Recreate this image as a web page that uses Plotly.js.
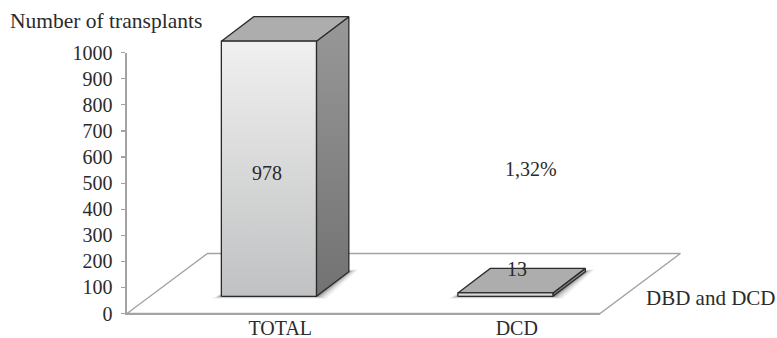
<!DOCTYPE html>
<html>
<head>
<meta charset="utf-8">
<script src="https://cdn.plot.ly/plotly-3.0.1.min.js"></script>
<style>html,body{margin:0;padding:0;background:#fff}</style>
</head>
<body>
<div id="chart" style="width:777px;height:338px"></div>
<script>
// Transplant counts per donor group
const categories = ['TOTAL', 'DCD'];
const values = [978, 13];
const yTicks = [0, 100, 200, 300, 400, 500, 600, 700, 800, 900, 1000];

// Page and axis frame, in pixels
const pageW = 777, pageH = 338;
const frameL = 127, frameR = 600, frameT = 52.7, frameB = 313.5;

// Pseudo-3D projection, in axis units
const barWidth = 0.402;
const barOffset = 0.1;
const barBase = 66;
const depthX = 0.137;
const depthY = 94;
const floorDepthX = 0.34;
const floorDepthY = 230;
const labelOffset = 0.148;

const ink = '#2b2b2b';
const axisGrey = '#a3a3a3';
const serif = '"Liberation Serif", serif';
const textSize = 20;
const captionSize = 21;

// The drawing axes cover the whole page at the same scale as the visible frame,
// so the extruded bars can rise past the 1000 tick without being clipped.
const unitX = (frameR - frameL) / 2;
const unitY = (frameB - frameT) / 1000;
const fullX = [-0.5 - frameL / unitX, -0.5 + (pageW - frameL) / unitX];
const fullY = [(frameB - pageH) / unitY, frameB / unitY];

function poly(xs, ys, style) {
  return Object.assign({
    type: 'scatter', mode: 'lines', xaxis: 'x2', yaxis: 'y2',
    x: xs.concat(xs[0]), y: ys.concat(ys[0]),
    fill: 'toself', hoverinfo: 'skip', showlegend: false
  }, style);
}

// Carrier for the visible axes
const traces = [{
  type: 'scatter', mode: 'markers', x: [0, 1], y: values,
  marker: { opacity: 0 }, hoverinfo: 'skip', showlegend: false
}];

// Floor plane
traces.push(poly(
  [-0.5, 1.5, 1.5 + floorDepthX, -0.5 + floorDepthX],
  [0, 0, floorDepthY, floorDepthY],
  { fill: 'none', line: { color: axisGrey, width: 1.4 } }
));

// Soft contact shadows under each bar
categories.forEach((c, i) => {
  const l = i + barOffset - barWidth / 2, r = l + barWidth;
  [[0.04, 9, 0.07], [0.03, 7, 0.1], [0.02, 5, 0.14], [0.012, 3, 0.2], [0.005, 1.5, 0.25]].forEach(([gx, gy, op]) => {
    traces.push(poly(
      [l - gx, r + gx, r + depthX + gx, l + depthX + gx],
      [barBase - gy, barBase - gy, barBase + depthY + gy, barBase + depthY + gy],
      { fillcolor: 'rgba(50,50,50,' + op + ')', line: { width: 0 } }
    ));
  });
});

// Bars: side, top and front faces
const edge = { color: ink, width: 1.3 };
categories.forEach((c, i) => {
  const l = i + barOffset - barWidth / 2, r = l + barWidth;
  const top = barBase + values[i];
  traces.push(poly(
    [r, r + depthX, r + depthX, r],
    [barBase, barBase + depthY, top + depthY, top],
    { line: edge, fillgradient: { type: 'vertical', colorscale: [[0, '#727272'], [1, '#989898']] } }
  ));
  traces.push(poly(
    [l, r, r + depthX, l + depthX],
    [top, top, top + depthY, top + depthY],
    { line: edge, fillcolor: '#adadae' }
  ));
  traces.push(poly(
    [l, r, r, l],
    [barBase, barBase, top, top],
    { line: edge, fillgradient: { type: 'vertical', colorscale: [[0, '#c0c1c2'], [1, '#f0f0f0']] } }
  ));
});

const label = (text, x, y, size) => ({
  text: text, x: x, y: y, xref: 'x2', yref: 'y2', showarrow: false,
  font: { family: serif, size: size || textSize, color: ink }
});

const layout = {
  width: pageW, height: pageH,
  margin: { l: 0, r: 0, t: 0, b: 0, pad: 0 },
  paper_bgcolor: '#ffffff', plot_bgcolor: 'rgba(0,0,0,0)',
  font: { family: serif, size: textSize, color: ink },
  showlegend: false,
  xaxis: {
    domain: [frameL / pageW, frameR / pageW],
    range: [-0.5, 1.5], showgrid: false, zeroline: false,
    showline: true, linecolor: axisGrey, linewidth: 1.6,
    tickmode: 'array', tickvals: categories.map((c, i) => i + labelOffset), ticktext: categories,
    ticks: '', ticklabelstandoff: -4, tickfont: { family: serif, size: textSize, color: ink }
  },
  yaxis: {
    domain: [(pageH - frameB) / pageH, (pageH - frameT) / pageH],
    range: [0, 1000], showgrid: false, zeroline: false,
    showline: true, linecolor: axisGrey, linewidth: 1.6,
    tickmode: 'array', tickvals: yTicks,
    ticks: 'outside', ticklen: 4, tickcolor: axisGrey, tickwidth: 1.2, ticklabelstandoff: 5,
    tickfont: { family: serif, size: textSize, color: ink }
  },
  xaxis2: { domain: [0, 1], range: fullX, visible: false, anchor: 'y2' },
  yaxis2: { domain: [0, 1], range: fullY, visible: false, anchor: 'x2' },
  annotations: [
    label(String(values[0]), 0.09, 539),
    label(String(values[1]), 1.147, 172),
    label('1,32%', 1.208, 553),
    label('DBD and DCD', 1.97, 60, captionSize),
    label('Number of transplants', -0.589, 1120, captionSize + 0.5)
  ]
};

Plotly.newPlot('chart', traces, layout, { displayModeBar: false, staticPlot: true });
</script>
</body>
</html>
